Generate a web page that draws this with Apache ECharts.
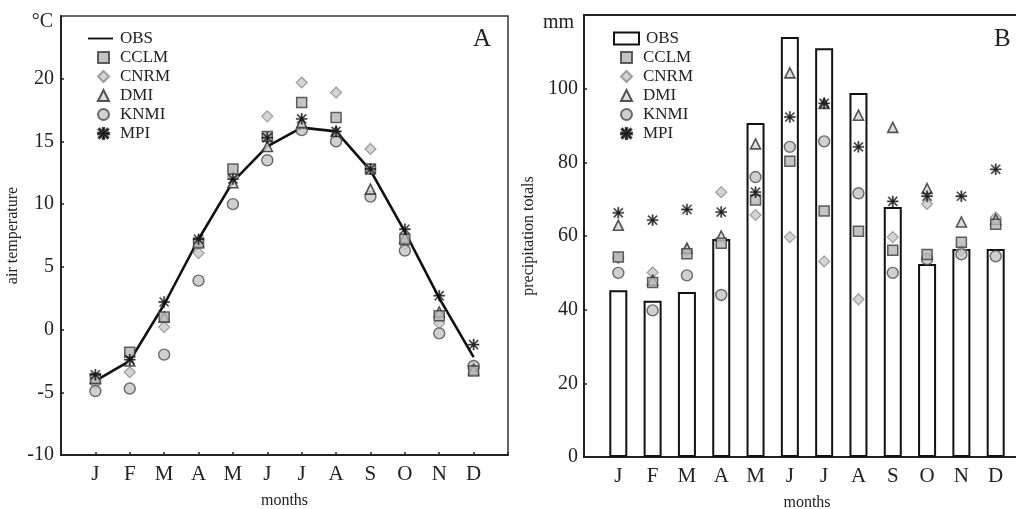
<!DOCTYPE html>
<html>
<head>
<meta charset="utf-8">
<script src="https://cdn.jsdelivr.net/npm/echarts@6/dist/echarts.min.js"></script>
<style>
html,body{margin:0;padding:0;background:#fff;}
#c{width:1016px;height:509px;}
</style>
</head>
<body>
<div id="c"></div>
<script>
// ---- data ----
const months = ['J','F','M','A','M','J','J','A','S','O','N','D'];
const modelNames = ['OBS','CCLM','CNRM','DMI','KNMI','MPI'];

// Panel A: air temperature (°C)
const tempOBS  = [-4.1,-2.5, 2.0, 7.2,11.8,14.6,16.1,15.8,12.7, 7.8, 2.5,-2.2];
const tempCCLM = [-3.9,-1.8, 1.0, 6.9,12.8,15.4,18.1,16.9,12.8, 7.2, 1.1,-3.3];
const tempCNRM = [-4.3,-3.4, 0.2, 6.1,12.2,17.0,19.7,18.9,14.4, 6.8, 0.5,-3.1];
const tempDMI  = [-3.9,-2.5, 1.0, 7.0,11.7,14.6,16.5,15.8,11.2, 7.3, 1.4,-3.2];
const tempKNMI = [-4.9,-4.7,-2.0, 3.9,10.0,13.5,15.9,15.0,10.6, 6.3,-0.3,-2.9];
const tempMPI  = [-3.6,-2.4, 2.2, 7.2,12.0,15.3,16.8,15.8,12.8, 8.0, 2.7,-1.2];

// Panel B: precipitation totals (mm)
const precOBS  = [45.3,42.4,44.8,59.2,90.7,114.0,111.0,98.8,67.9,52.4,56.5,56.5];
const precCCLM = [54.3,47.4,55.2,58.0,69.8, 80.3, 66.8,61.3,56.1,55.0,58.3,63.2];
const precCNRM = [54.0,50.1,56.0,71.9,65.7, 59.7, 53.1,42.8,59.7,68.7,56.0,65.0];
const precDMI  = [62.9,48.0,56.7,60.0,85.0,104.3, 96.0,92.8,89.5,72.9,63.8,64.5];
const precKNMI = [50.0,39.8,49.3,44.0,76.0, 84.2, 85.7,71.6,50.0,53.7,55.0,54.5];
const precMPI  = [66.3,64.3,67.2,66.5,71.9, 92.3, 96.0,84.2,69.4,70.8,70.8,78.1];

const tempTicks = {min:-10, max:25, interval:5};
const precTicks = {min:0, max:120, interval:20};

// ---- helpers ----
const FONT = '"Liberation Serif", "DejaVu Serif", serif';
const TXT = '#222';
const STAR = 'path://M4.4 0L5.6 0L5.6 10L4.4 10Z M0 4.4L10 4.4L10 5.6L0 5.6Z M0.6 1.4L1.4 0.6L9.4 8.6L8.6 9.4Z M8.6 0.6L9.4 1.4L1.4 9.4L0.6 8.6Z';

const markerStyles = {
  CCLM: {symbol:'rect', size:10, itemStyle:{color:'#b5b5b5', borderColor:'#3a3a3a', borderWidth:1.5}},
  CNRM: {symbol:'diamond', size:11, itemStyle:{color:'#c9c9c9', borderColor:'#8a8a8a', borderWidth:1.2}},
  DMI:  {symbol:'triangle', size:10, itemStyle:{color:'#d6d6d6', borderColor:'#2a2a2a', borderWidth:1.6}},
  KNMI: {symbol:'circle', size:11, itemStyle:{color:'#c4c4c4', borderColor:'#4a4a4a', borderWidth:1.4}},
  MPI:  {symbol:STAR, size:11, itemStyle:{color:'#111', borderColor:'#111', borderWidth:0.4}}
};

const pairs = arr => arr.map((v,i)=>[i+1, v]);

function scatter(prefix, name, arr, gi){
  const s = markerStyles[name];
  return {
    type:'scatter', name: prefix + name, xAxisIndex:gi, yAxisIndex:gi,
    data: pairs(arr), symbol:s.symbol, symbolSize:s.size,
    itemStyle:s.itemStyle, z:3, silent:true
  };
}

const xAxisBase = (gi) => ({
  type:'value', gridIndex:gi, min:0, max:13, interval:1,
  axisLine:{show:true, onZero:false, lineStyle:{color:'#222', width:2}},
  axisTick:{show:true, inside:true, length:3, lineStyle:{color:'#222', width:1.5}},
  splitLine:{show:false},
  axisLabel:{
    fontFamily:FONT, fontSize:21, color:TXT, margin:9,
    formatter: v => (v>=1 && v<=12) ? months[v-1] : ''
  },
  name:'months', nameLocation:'middle', nameGap:38,
  nameTextStyle:{fontFamily:FONT, fontSize:16, color:TXT}
});

const legendText = {fontFamily:FONT, fontSize:17, color:TXT, lineHeight:17};

function obsLegend(left, name, icon){
  return {show:true, orient:'vertical', left:left, top:30, padding:0,
    itemWidth:25, itemHeight: icon==='rect' ? 12 : 11, selectedMode:false,
    data:[{name:name, icon:icon}], formatter: n => n.slice(2),
    textStyle:Object.assign({}, legendText, {padding:[0,0,0,2]})};
}
function modelLegend(left, prefix){
  return {show:true, orient:'vertical', left:left, top:49, padding:0, itemGap:2,
    itemWidth:11, itemHeight:11, selectedMode:false,
    data: modelNames.slice(1).map(n=>prefix+n), formatter: n => n.slice(2),
    textStyle:Object.assign({}, legendText, {padding:[0,0,0,6]})};
}

const option = {
  animation:false,
  backgroundColor:'#fff',
  grid:[
    {left:61, top:16, width:447, height:439, show:true, borderColor:'#333', borderWidth:1.5,
     backgroundColor:'transparent', containLabel:false, outerBoundsMode:'none'},
    {left:584, top:15, width:446, height:442, show:true, borderColor:'#222', borderWidth:2,
     backgroundColor:'transparent', containLabel:false, outerBoundsMode:'none'}
  ],
  xAxis:[xAxisBase(0), xAxisBase(1)],
  yAxis:[
    {type:'value', gridIndex:0, min:tempTicks.min, max:tempTicks.max, interval:tempTicks.interval,
     axisLine:{show:true, onZero:false, lineStyle:{color:'#222', width:2}},
     axisTick:{show:true, inside:true, length:3, lineStyle:{color:'#222', width:1.5}},
     splitLine:{show:false},
     axisLabel:{fontFamily:FONT, fontSize:20, color:TXT, margin:7, showMaxLabel:false},
     name:'air temperature', nameLocation:'middle', nameRotate:90, nameGap:40,
     nameTextStyle:{fontFamily:FONT, fontSize:16, color:TXT}},
    {type:'value', gridIndex:1, min:precTicks.min, max:precTicks.max, interval:precTicks.interval,
     axisLine:{show:true, onZero:false, lineStyle:{color:'#222', width:2}},
     axisTick:{show:true, inside:true, length:3, lineStyle:{color:'#222', width:1.5}},
     splitLine:{show:false},
     axisLabel:{fontFamily:FONT, fontSize:20, color:TXT, margin:6, showMaxLabel:false},
     name:'precipitation totals', nameLocation:'middle', nameRotate:90, nameGap:47,
     nameTextStyle:{fontFamily:FONT, fontSize:16, color:TXT}}
  ],
  legend:[
    obsLegend(88, 'A:OBS', 'path://M0 0H40V3H0Z'),
    modelLegend(97, 'A:'),
    obsLegend(613, 'B:OBS', 'rect'),
    modelLegend(620, 'B:')
  ],
  graphic:[
    {type:'text', right:1016-53, top:12, style:{text:'°C', font:'20px '+FONT, fill:TXT, textAlign:'right'}},
    {type:'text', left:543, top:13, style:{text:'mm', font:'20px '+FONT, fill:TXT}},
    {type:'text', left:473, top:27, style:{text:'A', font:'25px '+FONT, fill:TXT}},
    {type:'text', left:994, top:27, style:{text:'B', font:'25px '+FONT, fill:TXT}}
  ],
  series:[
    {type:'line', name:'A:OBS', xAxisIndex:0, yAxisIndex:0, data:pairs(tempOBS),
     symbol:'none', lineStyle:{color:'#111', width:2.6}, itemStyle:{color:'#111'}, z:2, silent:true},
    scatter('A:','CNRM', tempCNRM, 0),
    scatter('A:','KNMI', tempKNMI, 0),
    scatter('A:','DMI', tempDMI, 0),
    scatter('A:','CCLM', tempCCLM, 0),
    scatter('A:','MPI', tempMPI, 0),

    {type:'bar', name:'B:OBS', xAxisIndex:1, yAxisIndex:1, data:pairs(precOBS),
     barWidth:18, itemStyle:{color:'#fff', borderColor:'#111', borderWidth:2}, z:2, silent:true},
    scatter('B:','CNRM', precCNRM, 1),
    scatter('B:','KNMI', precKNMI, 1),
    scatter('B:','DMI', precDMI, 1),
    scatter('B:','CCLM', precCCLM, 1),
    scatter('B:','MPI', precMPI, 1)
  ]
};

const chart = echarts.init(document.getElementById('c'), null, {renderer:'canvas'});
chart.setOption(option);
</script>
</body>
</html>
